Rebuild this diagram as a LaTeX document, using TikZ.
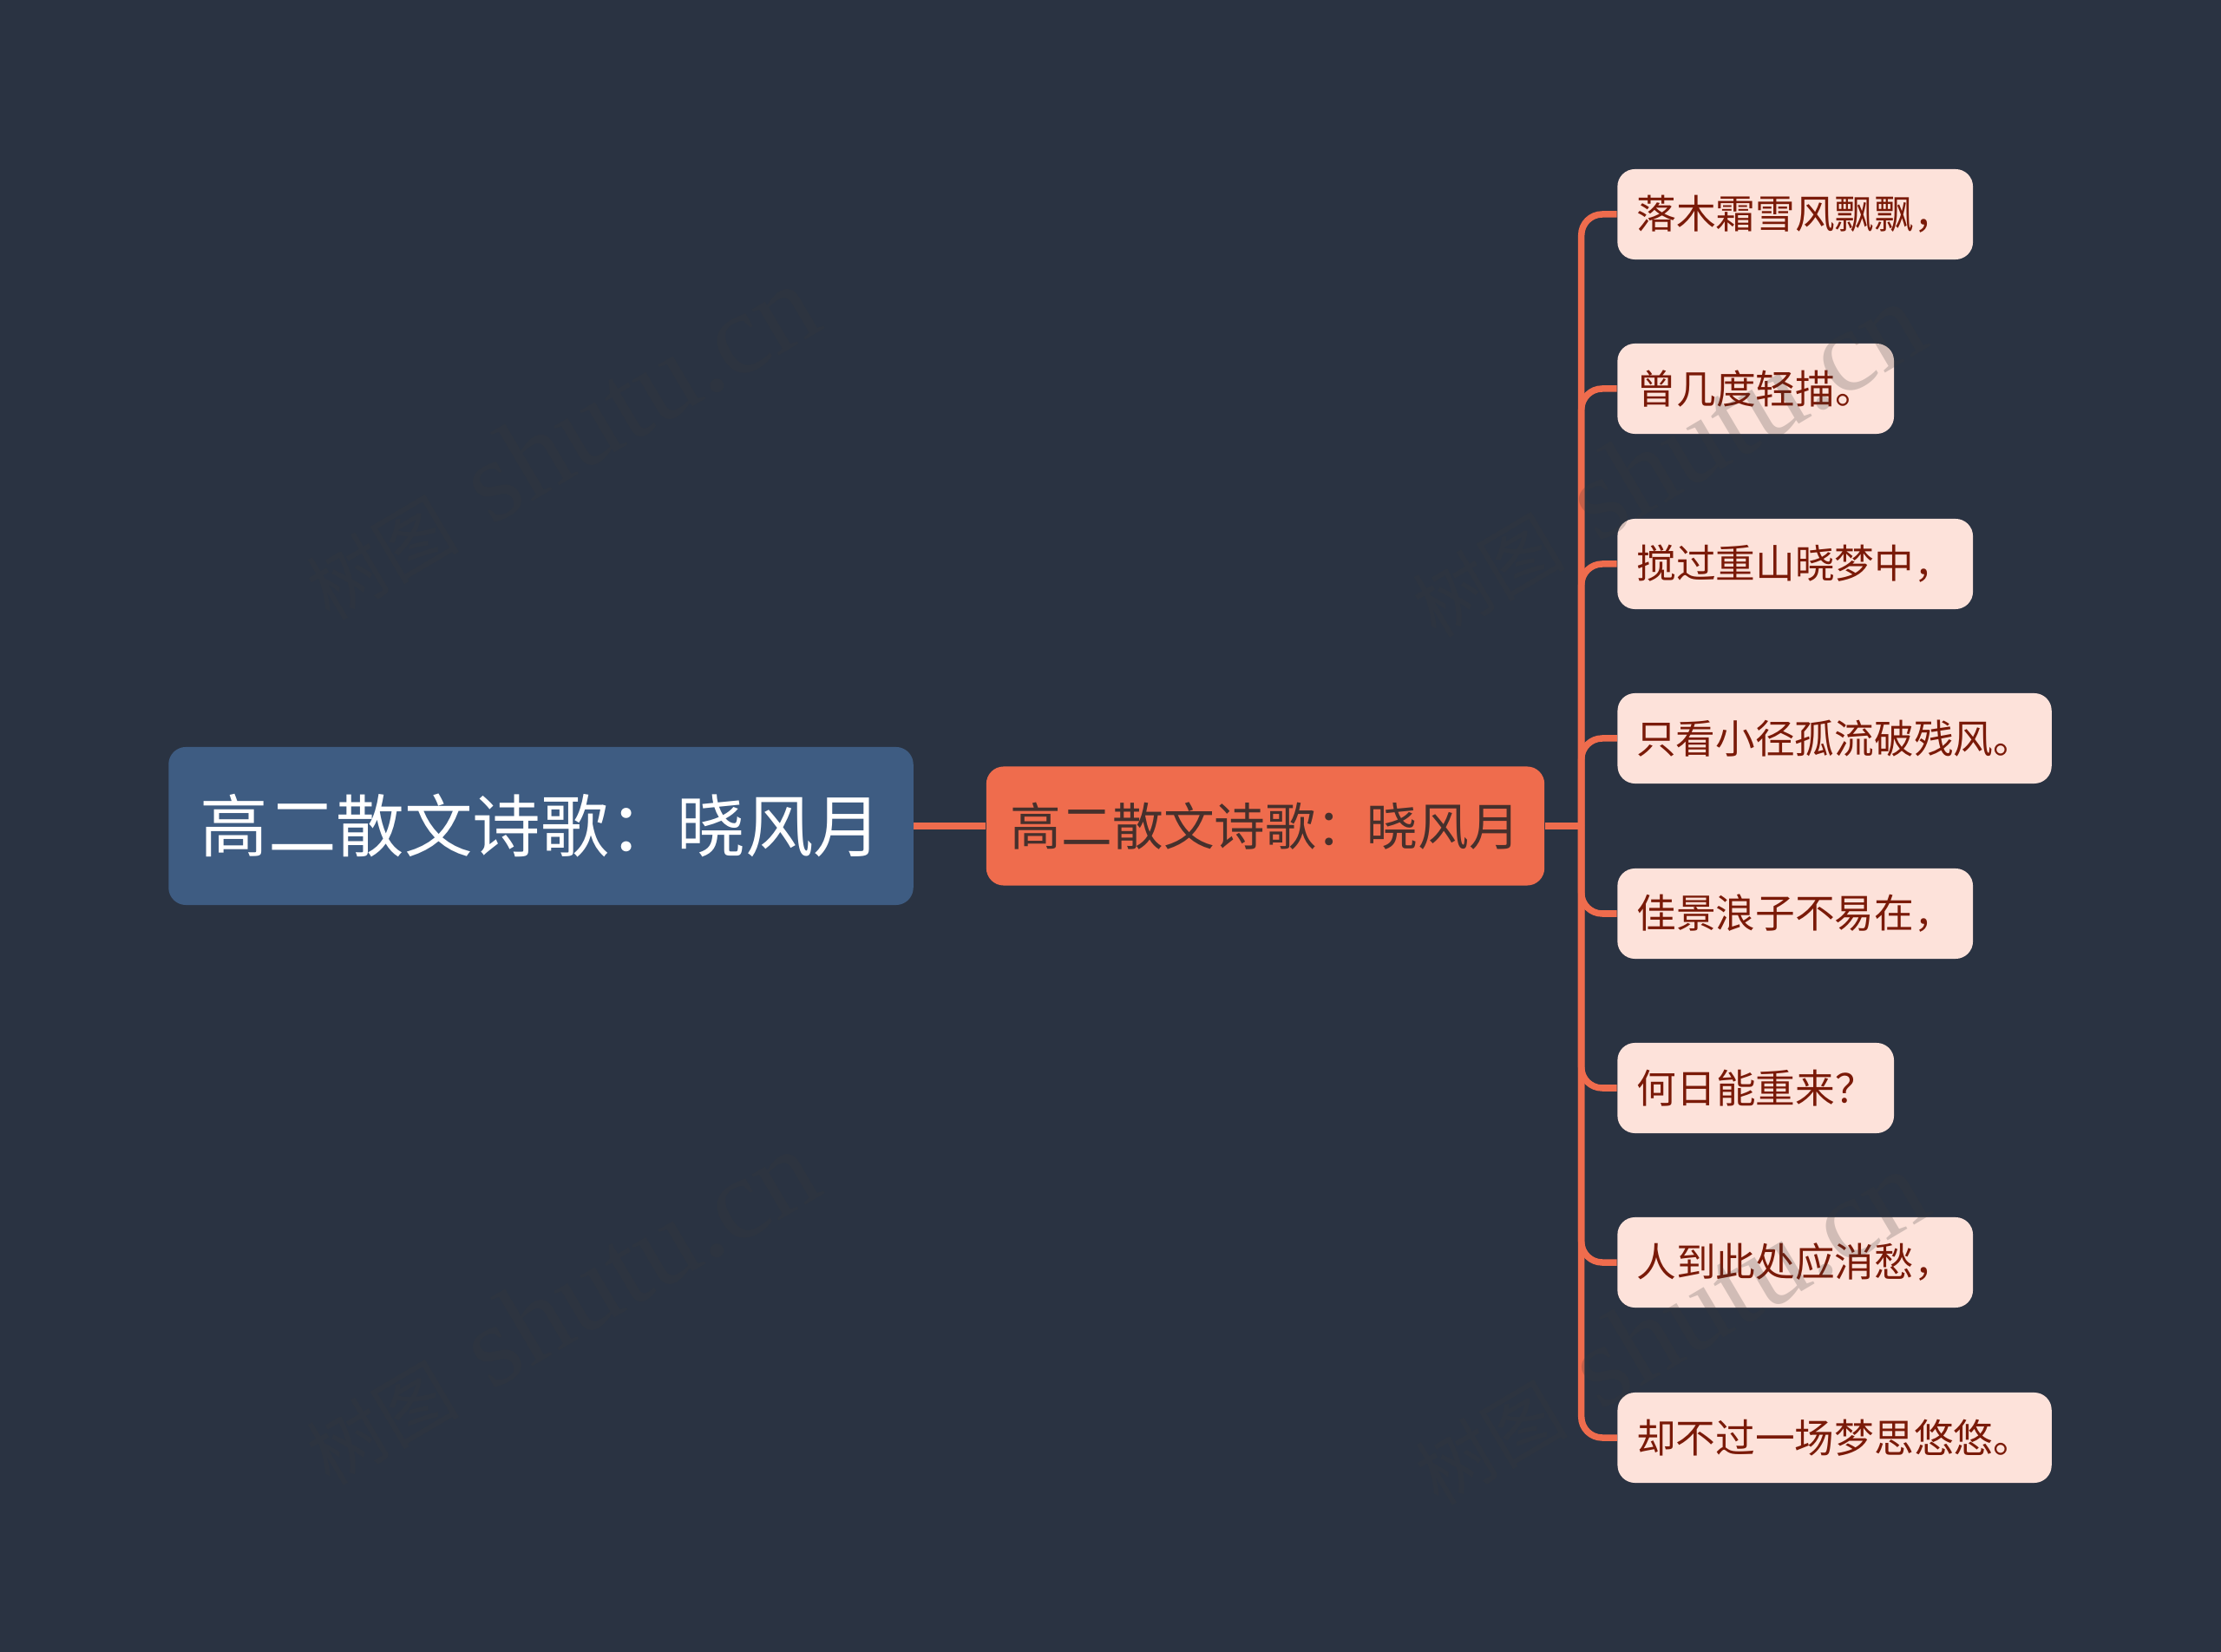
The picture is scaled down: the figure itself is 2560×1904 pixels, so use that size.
\documentclass[tikz,border=0pt]{standalone}
\usepackage{fontspec}
\setmainfont{Noto Sans CJK SC}
\newfontfamily\wmlatin{Liberation Serif}
\definecolor{bgc}{HTML}{2A3342}
\definecolor{rootc}{HTML}{3E5C82}
\definecolor{mainc}{HTML}{EF6C4D}
\definecolor{leafc}{HTML}{FDE2DA}
\definecolor{leaft}{HTML}{7A1A08}
\definecolor{maint}{HTML}{46302C}
\definecolor{wmc}{HTML}{393939}
\newcommand{\fs}[1]{\fontsize{#1}{#1}\selectfont}
\newcommand{\dn}[1]{\raisebox{-0.02cm}{#1}}
\tikzset{
  x=0.01cm,y=-0.01cm,
  rootbox/.style={fill=rootc,rounded corners=0.2cm,minimum width=8.58cm,minimum height=1.82cm,inner sep=0pt,text=white,font=\fs{22.35pt}},
  mainbox/.style={fill=mainc,rounded corners=0.2cm,minimum width=6.43cm,minimum height=1.37cm,inner sep=0pt,text=maint,font=\fs{16.7pt}},
  leafbox/.style={fill=leafc,rounded corners=0.2cm,minimum height=1.04cm,inner sep=0pt,text=leaft,font=\fs{13pt}},
  link/.style={draw=mainc,line width=0.075cm},
  branch/.style={link,rounded corners=0.24cm},
  wmark/.style={text=wmc,text opacity=0.22,rotate=30.6,inner sep=0pt,font=\fs{25pt}},
}
\newcommand{\wmtext}{树图\hspace{0.4cm}{\wmlatin\fs{38pt}shutu.cn}}
\begin{document}
\begin{tikzpicture}
\useasboundingbox[fill=bgc] (0,0) rectangle (2560,1904);
\node[rootbox] (root) at (623.5,952) {高二散文诗歌：晓风月};
\node[mainbox] (main) at (1458.5,952) {高二散文诗歌：晓风月};
\coordinate (j) at (1822.7,952);
\node[leafbox,minimum width=4.095cm] (l1) at (2069.2,247) {\dn{落木霜雪风飘飘，}};
\node[leafbox,minimum width=3.185cm] (l2) at (2023.7,448) {\dn{曾几度轻描。}};
\node[leafbox,minimum width=4.095cm] (l3) at (2069.2,650) {\dn{搅过重山晓梦中，}};
\node[leafbox,minimum width=5cm] (l4) at (2114.6,851) {\dn{只看小径孤流破残风。}};
\node[leafbox,minimum width=4.095cm] (l5) at (2069.2,1053) {\dn{佳景浪子不易在，}};
\node[leafbox,minimum width=3.185cm] (l6) at (2023.7,1254) {\dn{何日能重来？}};
\node[leafbox,minimum width=4.095cm] (l7) at (2069.2,1455) {\dn{人到此处应消愁，}};
\node[leafbox,minimum width=5cm] (l8) at (2114.6,1657) {\dn{却不过一场梦思悠悠。}};
\draw[link] (root.east) -- (main.west);
\draw[link] (main.east) -- (j);
\foreach \n in {l1,l2,l3,l4,l5,l6,l7,l8}{
  \draw[branch] (j) |- (\n.west);
}
\node[wmark] (w1) at (645,510) {\wmtext};
\node[wmark] (w2) at (1920,530) {\wmtext};
\node[wmark] (w3) at (645,1507) {\wmtext};
\node[wmark] (w4) at (1923,1530) {\wmtext};
\end{tikzpicture}
\end{document}
